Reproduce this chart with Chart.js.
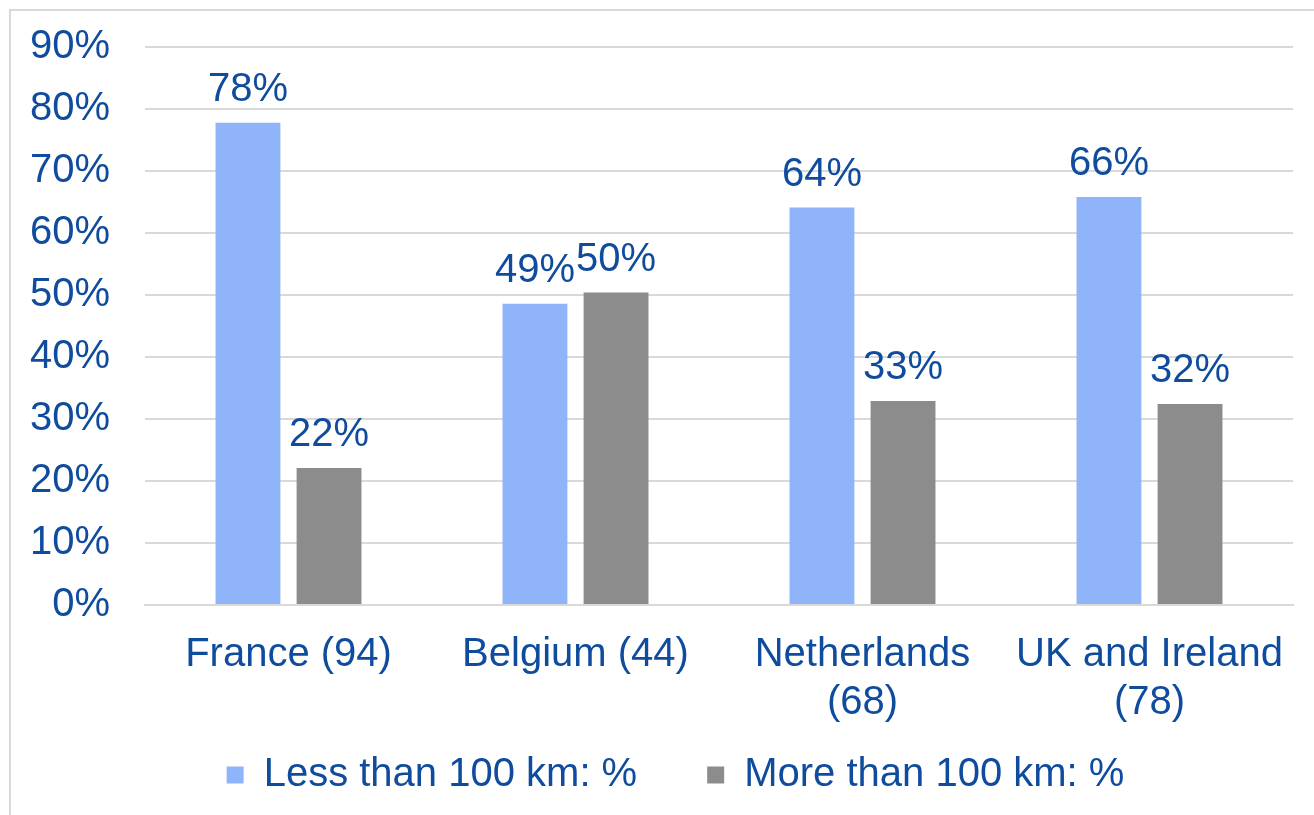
<!DOCTYPE html>
<html><head><meta charset="utf-8">
<script src="https://cdn.jsdelivr.net/npm/chart.js@4.4.0/dist/chart.umd.min.js"></script>
<style>
html,body{margin:0;padding:0;background:#fff;width:1314px;height:815px;overflow:hidden}
#frame{position:absolute;left:9px;top:9px;width:1400px;height:900px;border:2px solid #d9d9d9;box-sizing:border-box}
#wrap{position:absolute;left:0;top:0;width:1314px;height:815px}
</style></head><body>
<div id="frame"></div>
<div id="wrap"><canvas id="c" width="1314" height="815"></canvas></div>
<script>
const categories = ["France (94)", "Belgium (44)", ["Netherlands", "(68)"], ["UK and Ireland", "(78)"]];
const seriesNames = ["Less than 100 km: %", "More than 100 km: %"];
const lessThan100 = [77.8, 48.6, 64.1, 65.8];
const moreThan100 = [22.1, 50.4, 32.9, 32.4];
const yTicks = [0, 10, 20, 30, 40, 50, 60, 70, 80, 90];

const FONT = '"Liberation Sans", Arial, sans-serif';
const TEXT = '#0F4C9E';
const GRID = '#d9d9d9';
const BLUE = '#8FB4F9';
const GRAY = '#8C8C8C';

const valueLabels = {
  id: 'valueLabels',
  afterDatasetsDraw(chart) {
    const ctx = chart.ctx;
    ctx.save();
    ctx.font = '40px ' + FONT;
    ctx.fillStyle = TEXT;
    ctx.textAlign = 'center';
    ctx.textBaseline = 'alphabetic';
    chart.data.datasets.forEach((ds, i) => {
      chart.getDatasetMeta(i).data.forEach((bar, j) => {
        ctx.fillText(Math.round(ds.data[j]) + '%', bar.x, bar.y - 22);
      });
    });
    ctx.restore();
  }
};

// widen the label clip boxes of the axes so tick labels are not cut
const unclipLabels = {
  id: 'unclipLabels',
  afterLayout(chart) {
    chart.scales.x.bottom = chart.height;
    chart.scales.y.left = 0;
  }
};

new Chart(document.getElementById('c'), {
  type: 'bar',
  data: {
    labels: categories,
    datasets: [
      { label: seriesNames[0], data: lessThan100, backgroundColor: BLUE, borderWidth: 0,
        categoryPercentage: 0.565, barPercentage: 0.8 },
      { label: seriesNames[1], data: moreThan100, backgroundColor: GRAY, borderWidth: 0,
        categoryPercentage: 0.565, barPercentage: 0.8 }
    ]
  },
  plugins: [valueLabels, unclipLabels],
  options: {
    responsive: false,
    animation: false,
    devicePixelRatio: 1,
    layout: { padding: { left: 58, right: 21, top: 47, bottom: 10 } },
    plugins: {
      legend: {
        position: 'bottom',
        labels: { font: { family: FONT, size: 40 }, color: TEXT, boxWidth: 17, boxHeight: 17, padding: 70 }
      },
      tooltip: { enabled: false }
    },
    scales: {
      x: {
        grid: { display: false },
        border: { display: true, color: GRID, width: 2 },
        ticks: { font: { family: FONT, size: 40 }, color: TEXT, padding: 18, maxRotation: 0, minRotation: 0, autoSkip: false },
        afterFit(s) { s.height = 80; }
      },
      y: {
        min: yTicks[0], max: yTicks[yTicks.length - 1],
        afterBuildTicks(s) { s.ticks = yTicks.map(v => ({ value: v })); },
        ticks: { font: { family: FONT, size: 40 }, color: TEXT, padding: 12, callback: v => v + '%' },
        grid: { color: GRID, lineWidth: 2, drawTicks: true, tickLength: 23, tickColor: 'rgba(0,0,0,0)' },
        border: { display: false },
        afterFit(s) { s.width = 87; }
      }
    }
  }
});
</script>
</body></html>
